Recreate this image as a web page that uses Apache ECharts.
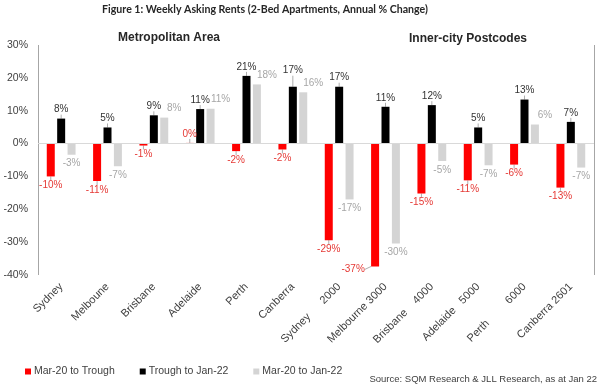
<!DOCTYPE html>
<html>
<head>
<meta charset="utf-8">
<script src="https://cdn.jsdelivr.net/npm/echarts@6/dist/echarts.min.js"></script>
<style>html,body{margin:0;padding:0;background:#fff;}#c{width:600px;height:385px;}</style>
</head>
<body>
<div id="c"></div>
<script>
var categories = ['Sydney','Melboune','Brisbane','Adelaide','Perth','Canberra',
  'Sydney      2000','Melbourne 3000','Brisbane    4000','Adelaide   5000','Perth         6000','Canberra 2601'];
var seriesNames = ['Mar-20 to Trough','Trough to Jan-22','Mar-20 to Jan-22'];
var marchToTrough = [-10, -11.4, -0.6, 0.2, -2.3, -1.8, -29.4, -37.4, -15.2, -11.2, -6.4, -13.4];
var troughToJan22 = [7.6, 4.9, 8.6, 10.5, 20.6, 17.3, 17.3, 11.2, 11.7, 4.9, 13.4, 6.6];
var marchToJan22 = [-3.4, -6.9, 7.9, 10.6, 18.0, 15.6, -17.0, -30.4, -5.3, -6.6, 5.8, -7.3];
var yTicks = { min: -40, max: 30, interval: 10 };
var titleText = 'Figure 1: Weekly Asking Rents (2-Bed Apartments, Annual % Change)';
var panelTitles = ['Metropolitan Area', 'Inner-city Postcodes'];
var sourceText = 'Source: SQM Research & JLL Research, as at Jan 22';

var FONT = "'Liberation Sans', Arial, sans-serif";
function fmt(p) { return Math.round(p.value) + '%'; }
function items(arr, color, posOffset) {
  return arr.map(function (v) {
    return { value: v, label: { position: v >= 0 ? 'top' : 'bottom', offset: (v >= 0 && posOffset) ? posOffset : [0, 0], color: color } };
  });
}
var labelBase = { show: true, fontSize: 10, fontFamily: FONT, formatter: fmt, distance: 4 };

var chart = echarts.init(document.getElementById('c'), null, { renderer: 'canvas' });
chart.setOption({
  animation: false,
  backgroundColor: '#fff',
  grid: { left: 38, right: 6, top: 45, bottom: 110, containLabel: false, outerBoundsMode: 'none' },
  xAxis: {
    type: 'category',
    data: categories,
    axisLine: { show: false },
    axisTick: { show: false },
    axisLabel: { rotate: 45, interval: 0, margin: 10, fontSize: 11, fontFamily: FONT, color: '#404040' },
    splitLine: { show: true, interval: function (i) { return i === 6; }, lineStyle: { color: '#a6a6a6', width: 1 } }
  },
  yAxis: {
    type: 'value', min: yTicks.min, max: yTicks.max, interval: yTicks.interval,
    axisLine: { show: false }, axisTick: { show: false }, splitLine: { show: false },
    axisLabel: { formatter: '{value}%', fontSize: 10.5, fontFamily: FONT, color: '#404040', margin: 10 }
  },
  legend: {
    data: seriesNames, left: 20, top: 361, icon: 'rect', itemWidth: 6, itemHeight: 6, itemGap: 25,
    textStyle: { fontSize: 10.5, fontFamily: FONT, color: '#404040', padding: [0, 0, 0, -2] }
  },
  series: [
    {
      name: seriesNames[0], type: 'bar', barWidth: 8, barGap: '30%',
      itemStyle: { color: '#ff0000' },
      label: Object.assign({}, labelBase, { color: '#e53935' }),
      labelLayout: function (p) { return p.dataIndex === 7 ? { dx: -22, dy: -6 } : {}; },
      labelLine: { show: true, lineStyle: { color: '#999', width: 0.8 } },
      data: items(marchToTrough, '#e53935', null)
    },
    {
      name: seriesNames[1], type: 'bar', barWidth: 8, barGap: '30%',
      itemStyle: { color: '#000000' },
      label: Object.assign({}, labelBase, { color: '#333' }),
      labelLayout: function (p) { return p.dataIndex === 5 ? { dx: 0, dy: -7 } : {}; },
      labelLine: { show: true, lineStyle: { color: '#999', width: 0.8 } },
      data: items(troughToJan22, '#333', null)
    },
    {
      name: seriesNames[2], type: 'bar', barWidth: 8, barGap: '30%',
      itemStyle: { color: '#d4d4d4' },
      label: Object.assign({}, labelBase, { color: '#a6a6a6' }),
      data: items(marchToJan22, '#a6a6a6', [10, 0]),
      markLine: {
        silent: true, symbol: 'none', label: { show: false },
        lineStyle: { color: '#d9d9d9', type: 'solid', width: 1 },
        data: [{ yAxis: 0 }]
      }
    }
  ],
  graphic: [
    { type: 'text', x: 265, y: 10, style: { text: titleText, font: "bold 10.6px Lato, sans-serif", fill: '#262626', textAlign: 'center', textVerticalAlign: 'middle' } },
    { type: 'text', x: 169, y: 38, style: { text: panelTitles[0], font: 'bold 12px ' + FONT, fill: '#262626', textAlign: 'center', textVerticalAlign: 'middle' } },
    { type: 'text', x: 468, y: 39, style: { text: panelTitles[1], font: 'bold 12px ' + FONT, fill: '#262626', textAlign: 'center', textVerticalAlign: 'middle' } },
    { type: 'text', x: 597, y: 379, style: { text: sourceText, font: '9.5px ' + FONT, fill: '#404040', textAlign: 'right', textVerticalAlign: 'middle' } }
  ]
});
</script>
</body>
</html>
